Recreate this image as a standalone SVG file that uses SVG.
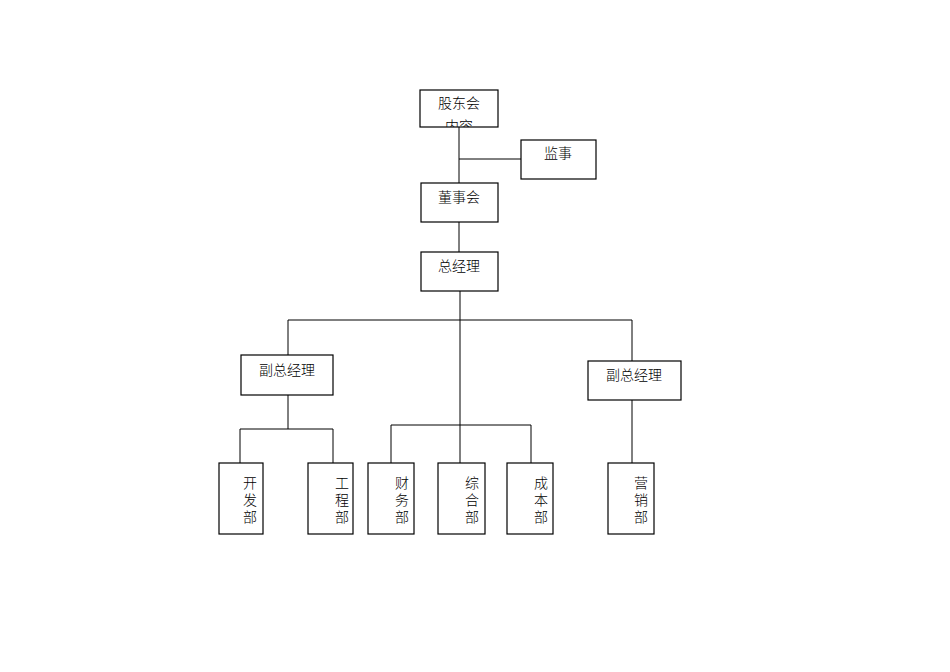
<svg xmlns="http://www.w3.org/2000/svg" width="950" height="672" viewBox="0 0 950 672">
<style>
rect{fill:#fff;stroke:#000;stroke-width:1.2}
line,polyline{stroke:#000;stroke-width:1;fill:none}
text{font-family:"Noto Sans CJK SC","Noto Sans CJK JP",sans-serif;font-size:14px;fill:#000;font-weight:300}
.c{text-anchor:middle}
.v{writing-mode:tb;text-anchor:middle;letter-spacing:3px}
</style>
<defs><clipPath id="cp"><rect x="420" y="90" width="78" height="37"/></clipPath></defs>
<rect x="0" y="0" width="950" height="672" style="stroke:none"/>
<g id="connectors">
<line x1="459" y1="127" x2="459" y2="183"/>
<line x1="459" y1="159" x2="521" y2="159"/>
<line x1="459" y1="222" x2="459" y2="252"/>
<line x1="460" y1="291" x2="460" y2="463"/>
<line x1="288" y1="320" x2="632" y2="320"/>
<line x1="288" y1="320" x2="288" y2="355"/>
<line x1="632" y1="320" x2="632" y2="361"/>
<line x1="632" y1="400" x2="632" y2="463"/>
<line x1="288" y1="395" x2="288" y2="429"/>
<polyline points="240,463 240,429 333,429 333,463"/>
<polyline points="391,463 391,425 531,425 531,463"/>
</g>
<g id="n1"><rect x="420" y="90" width="78" height="37"/><text class="c" x="459" y="108">股东会</text><text class="c" x="459" y="131" clip-path="url(#cp)">内容</text></g>
<g id="n2"><rect x="521" y="140" width="75" height="39"/><text class="c" x="558" y="158">监事</text></g>
<g id="n3"><rect x="421" y="183" width="77" height="39"/><text class="c" x="459" y="202">董事会</text></g>
<g id="n4"><rect x="421" y="252" width="77" height="39"/><text class="c" x="459" y="271">总经理</text></g>
<g id="n5"><rect x="241" y="355" width="92" height="40"/><text class="c" x="287" y="375">副总经理</text></g>
<g id="n6"><rect x="588" y="361" width="93" height="39"/><text class="c" x="634" y="380">副总经理</text></g>
<g id="n7"><rect x="219" y="463" width="44" height="71"/><text class="v" x="250" y="501">开发部</text></g>
<g id="n8"><rect x="308" y="463" width="45" height="71"/><text class="v" x="342" y="501">工程部</text></g>
<g id="n9"><rect x="368" y="463" width="46" height="71"/><text class="v" x="402" y="501">财务部</text></g>
<g id="n10"><rect x="438" y="463" width="47" height="71"/><text class="v" x="472" y="501">综合部</text></g>
<g id="n11"><rect x="507" y="463" width="46" height="71"/><text class="v" x="541" y="501">成本部</text></g>
<g id="n12"><rect x="608" y="463" width="46" height="71"/><text class="v" x="641" y="501">营销部</text></g>
</svg>
